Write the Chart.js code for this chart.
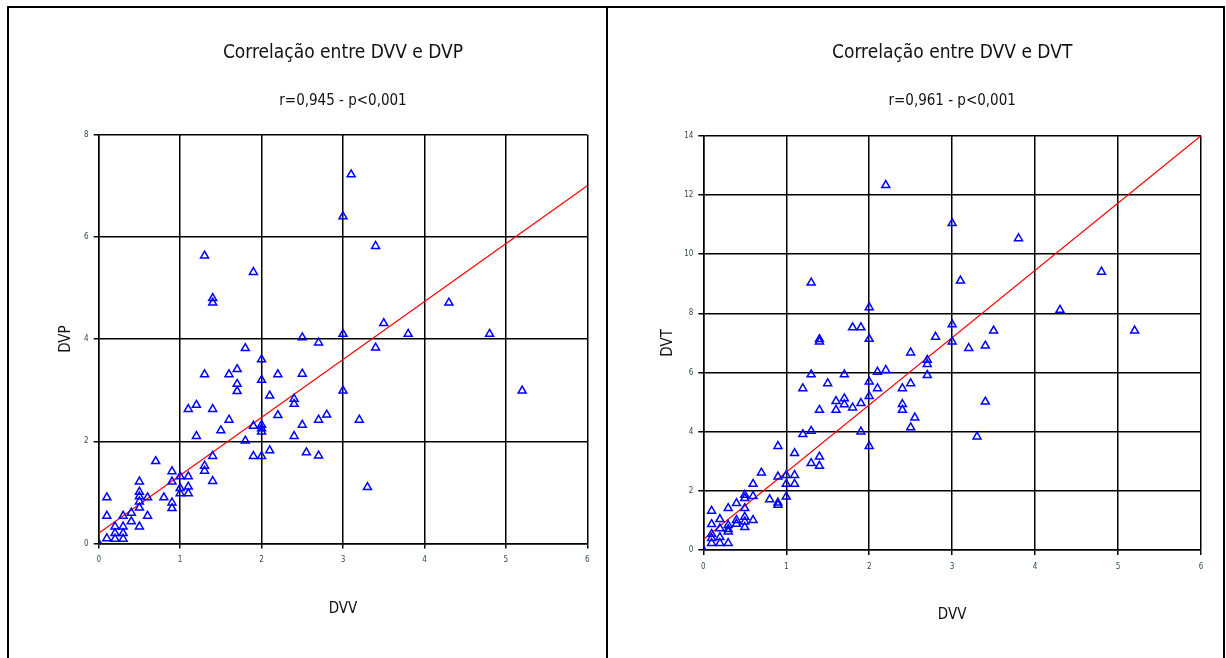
<!DOCTYPE html>
<html>
<head>
<meta charset="utf-8">
<script src="https://cdn.jsdelivr.net/npm/chart.js@4"></script>
<style>
  body { margin: 0; background: #fff; width: 1226px; height: 658px; overflow: hidden; position: relative; }
  canvas { position: absolute; }
  #c1 { left: 9px; top: 8px; }
  #c2 { left: 609px; top: 8px; }
  .frame { position: absolute; left: 7px; top: 6px; width: 1214px; height: 660px; border: 2px solid #000; border-bottom: none; }
  .divider { position: absolute; left: 606px; top: 6px; width: 2px; height: 652px; background: #000; }
</style>
</head>
<body>
<canvas id="c1" width="597" height="650"></canvas>
<canvas id="c2" width="614" height="650"></canvas>
<div class="frame"></div>
<div class="divider"></div>
<script>
// DVV x DVP
const dvvP = [3.1, 3.0, 1.3, 1.9, 1.4, 1.4, 2.5, 2.7, 3.0, 3.4, 4.3, 3.5, 3.8, 4.8, 3.4, 3.0, 5.2, 2.7, 2.8, 3.2,
  2.55, 2.7, 3.3, 2.5, 2.5, 1.8, 2.0, 1.3, 1.6, 1.7, 1.7, 1.7, 2.0, 2.2, 2.1, 2.4, 2.4, 2.2, 2.4,
  1.1, 1.2, 1.4, 1.6, 1.5, 1.2, 1.8, 1.9, 2.0, 2.0, 2.0, 1.9, 2.0, 2.1, 1.4,
  0.7, 1.3, 1.3, 1.4, 0.9, 0.9, 1.0, 1.0, 1.0, 1.1, 1.1, 1.1, 0.9, 0.9, 0.8, 0.6, 0.6,
  0.5, 0.5, 0.5, 0.5, 0.5, 0.5, 0.4, 0.4, 0.3, 0.3, 0.3, 0.3, 0.2, 0.2, 0.2, 0.1, 0.1, 0.1, 0];
const dvp = [7.22, 6.4, 5.63, 5.31, 4.8, 4.71, 4.03, 3.93, 4.1, 5.82, 4.71, 4.31, 4.1, 4.1, 3.83, 2.99, 2.99, 2.42, 2.52, 2.42,
  1.78, 1.72, 1.1, 3.32, 2.32, 3.82, 3.6, 3.31, 3.31, 3.41, 3.12, 2.98, 3.2, 3.31, 2.89, 2.83, 2.73, 2.51, 2.1,
  2.63, 2.71, 2.63, 2.42, 2.21, 2.1, 2.01, 2.3, 2.32, 2.25, 2.19, 1.71, 1.71, 1.82, 1.71,
  1.61, 1.52, 1.42, 1.22, 1.41, 1.21, 1.31, 1.08, 0.98, 1.31, 1.11, 0.98, 0.8, 0.69, 0.9, 0.9, 0.54,
  1.21, 1.01, 0.92, 0.82, 0.7, 0.33, 0.6, 0.43, 0.54, 0.33, 0.2, 0.09, 0.33, 0.2, 0.09, 0.9, 0.54, 0.1, 0];
const fitPX = [0, 6];
const fitPY = [0.2, 7.0];

// DVV x DVT
const dvvT = [2.2, 3.0, 1.3, 3.1, 2.0, 1.8, 1.9, 1.4, 1.4, 2.0, 2.8, 3.0, 3.0,
  3.8, 4.8, 4.3, 3.5, 5.2, 3.2, 3.4, 2.5, 2.7, 2.7, 2.7, 2.4, 2.5, 2.4, 2.4, 2.55, 2.5, 3.4, 3.3,
  1.3, 1.7, 1.5, 1.2, 2.1, 2.2, 2.0, 2.0, 2.1, 1.6, 1.6, 1.7, 1.7, 1.8, 1.9, 1.4, 1.9, 2.0, 1.2, 1.3,
  0.9, 1.1, 1.3, 1.4, 1.4, 0.7, 0.6, 0.9, 1.0, 1.0, 1.1, 1.1, 1.0,
  0.5, 0.5, 0.5, 0.5, 0.5, 0.5, 0.6, 0.6, 0.8, 0.9, 0.9, 0.4, 0.4, 0.4, 0.3, 0.3, 0.3, 0.3, 0.3,
  0.2, 0.2, 0.2, 0.2, 0.1, 0.1, 0.1, 0.1, 0.1, 0];
const dvt = [12.33, 11.04, 9.03, 9.1, 8.2, 7.52, 7.52, 7.12, 7.04, 7.13, 7.2, 7.62, 7.04,
  10.53, 9.4, 8.11, 7.41, 7.41, 6.82, 6.9, 6.67, 6.42, 6.28, 5.91, 5.46, 5.63, 4.93, 4.73, 4.47, 4.14, 5.01, 3.83,
  5.93, 5.93, 5.63, 5.46, 6.02, 6.08, 5.69, 5.2, 5.46, 5.03, 4.73, 5.12, 4.92, 4.81, 4.96, 4.73, 4.0, 3.51, 3.91, 4.02,
  3.51, 3.27, 2.93, 3.15, 2.84, 2.61, 2.23, 2.48, 2.53, 2.23, 2.53, 2.23, 1.8,
  1.86, 1.75, 1.41, 1.12, 0.96, 0.77, 1.82, 1.01, 1.71, 1.6, 1.52, 1.58, 1.01, 0.88, 1.41, 0.84, 0.7, 0.62, 0.23,
  1.04, 0.73, 0.43, 0.23, 1.32, 0.87, 0.54, 0.4, 0.23, 0];
const fitTX = [0, 6];
const fitTY = [0.35, 14.0];

const xTicks = [0, 1, 2, 3, 4, 5, 6];
const yTicksP = [0, 2, 4, 6, 8];
const yTicksT = [0, 2, 4, 6, 8, 10, 12, 14];

const FONT = "'Liberation Sans Narrow', 'DejaVu Sans Condensed', 'Liberation Sans', sans-serif";
const pts = (xs, ys) => xs.map((v, i) => ({ x: v, y: ys[i] }));
const setTicks = list => axis => { axis.ticks = list.map(v => ({ value: v })); };

function scatter(id, c) {
  const grid = { color: '#000', lineWidth: 1.5, tickLength: 5 };
  const tickFont = { family: FONT, size: 8 };
  return new Chart(document.getElementById(id), {
    type: 'scatter',
    data: {
      datasets: [{
        data: pts(c.xs, c.ys),
        pointStyle: 'triangle',
        radius: 4.6,
        borderColor: '#0000ff',
        backgroundColor: 'rgba(255,255,255,0)',
        borderWidth: 1.5
      }, {
        data: pts(c.fitX, c.fitY),
        showLine: true,
        borderColor: '#ff0000',
        borderWidth: 1.2,
        pointRadius: 0
      }]
    },
    options: {
      responsive: false,
      animation: false,
      devicePixelRatio: 1,
      layout: { padding: { left: 0, right: c.padRight, top: 0, bottom: 0 } },
      plugins: {
        legend: { display: false },
        tooltip: { enabled: false },
        title: {
          display: true, text: c.title, fullSize: false, color: '#111',
          font: { family: FONT, size: 19, weight: 'normal' },
          padding: { top: 33.5, bottom: 0 }
        },
        subtitle: {
          display: true, text: c.sub, fullSize: false, color: '#111',
          font: { family: FONT, size: 15 },
          padding: { top: 27.6, bottom: c.subBottom }
        }
      },
      scales: {
        x: {
          type: 'linear', min: 0, max: 6,
          afterBuildTicks: setTicks(xTicks),
          afterFit: s => { s.height = c.xHeight; },
          grid: grid,
          border: { color: '#000', width: 1.5 },
          ticks: { font: tickFont, color: '#2f4f4f', padding: 7, maxRotation: 0 },
          title: { display: true, text: 'DVV', color: '#111', font: { family: FONT, size: 15 }, padding: { top: 0, bottom: c.xTitlePad } }
        },
        y: {
          type: 'linear', min: 0, max: c.yMax,
          afterBuildTicks: setTicks(c.yTicks),
          afterFit: s => { s.width = c.yWidth; },
          grid: grid,
          border: { color: '#000', width: 1.5 },
          ticks: { font: tickFont, color: '#2f4f4f', padding: 5 },
          title: { display: true, text: c.yLabel, color: '#111', font: { family: FONT, size: 15 }, padding: { top: c.yTitlePad, bottom: 0 } }
        }
      }
    }
  });
}

scatter('c1', {
  xs: dvvP, ys: dvp, fitX: fitPX, fitY: fitPY,
  title: 'Correlação entre DVV e DVP', sub: 'r=0,945 - p<0,001',
  yLabel: 'DVP', yMax: 8, yTicks: yTicksP,
  padRight: 18.7, subBottom: 24.8, xHeight: 114.5, yWidth: 89.7, xTitlePad: 40, yTitlePad: 48
});

scatter('c2', {
  xs: dvvT, ys: dvt, fitX: fitTX, fitY: fitTY,
  title: 'Correlação entre DVV e DVT', sub: 'r=0,961 - p<0,001',
  yLabel: 'DVT', yMax: 14, yTicks: yTicksT,
  padRight: 22, subBottom: 25.8, xHeight: 108, yWidth: 94.3, xTitlePad: 34, yTitlePad: 50
});
</script>
</body>
</html>
